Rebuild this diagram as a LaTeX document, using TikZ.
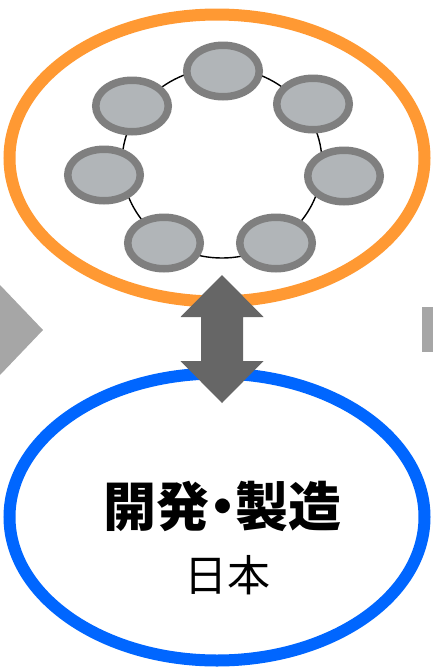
\documentclass[tikz,border=0pt]{standalone}
\usepackage{fontspec}
\newfontfamily\cjk{Noto Sans CJK JP}
\newfontfamily\cjkheavy{Noto Sans CJK JP Black}
\usetikzlibrary{shapes.geometric}
\definecolor{orng}{HTML}{FF9933}
\definecolor{blu}{HTML}{0066FF}
\definecolor{pfill}{HTML}{B1B5B8}
\definecolor{pline}{HTML}{7F7F7F}
\definecolor{darrow}{HTML}{666666}
\definecolor{sidegray}{HTML}{A6A6A6}
\tikzset{
  bigoval/.style={ellipse, draw, line width=12pt, minimum width=415pt, minimum height=287pt, inner sep=0pt, fill=white},
  member/.style={ellipse, draw=pline, fill=pfill, line width=7.5pt, minimum width=72.5pt, minimum height=51.5pt, inner sep=0pt},
}
\begin{document}
\begin{tikzpicture}[x=1pt,y=-1pt]
\useasboundingbox (0,0) rectangle (433,667);
% side fragments
\fill[sidegray] (0,285) -- (43,330) -- (0,375) -- cycle;
\fill[sidegray] (422,307) rectangle (433,352);
% big ovals
\node[bigoval, draw=orng] (team) at (217,158) {};
\node[bigoval, draw=blu] (dev) at (217,517) {};
% ring
\draw[line width=1.4pt] (222,163) ellipse [x radius=100, y radius=95];
% members
\node[member] (m1) at (223,71) {};
\node[member] (m2) at (313,104) {};
\node[member] (m3) at (344,176) {};
\node[member] (m4) at (276,243) {};
\node[member] (m5) at (164,243) {};
\node[member] (m6) at (104,175) {};
\node[member] (m7) at (132,106) {};
% double arrow
\coordinate (atop) at (222,275);
\coordinate (abot) at (222,403);
\fill[darrow] (atop) -- (263.5,317) -- (243,317) -- (243,361) -- (263.5,361) -- (abot)
  -- (180.5,361) -- (201,361) -- (201,317) -- (180.5,317) -- cycle;
% text
\node[font=\cjkheavy\fontsize{53}{57}\selectfont, inner sep=0pt] (t1) at (222.5,506) {開発\kern-13.5pt・\kern-13.5pt製造};
\node[font=\cjk\fontsize{43}{47}\selectfont, inner sep=0pt] (t2) at (227,575) {日本};
\end{tikzpicture}
\end{document}
